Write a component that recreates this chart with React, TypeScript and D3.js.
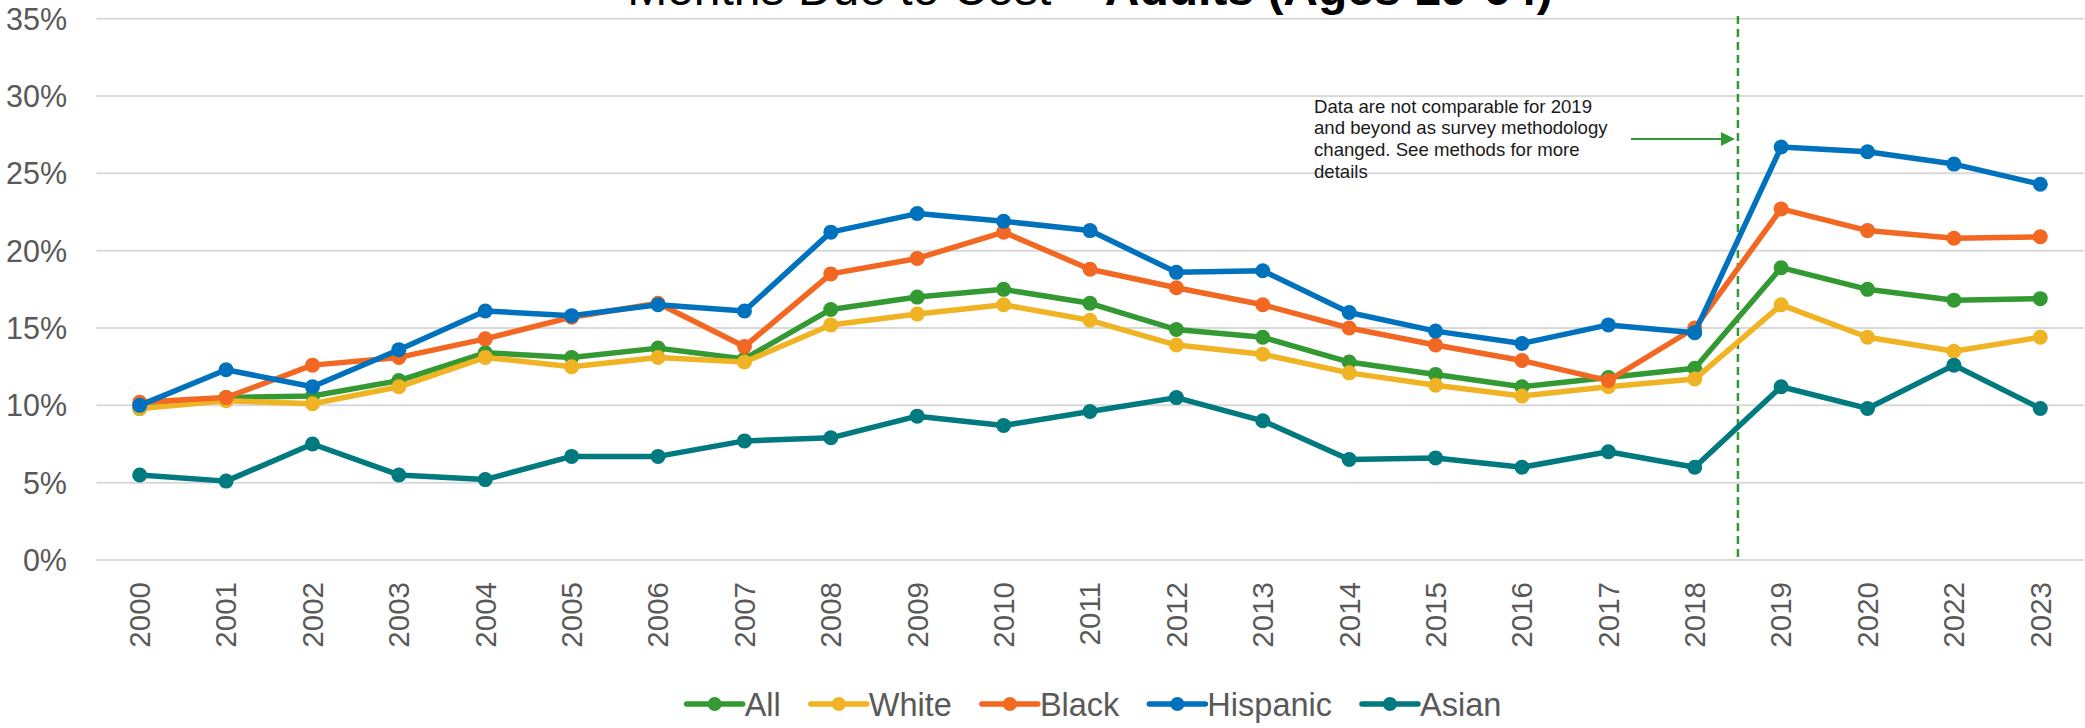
import React from "react";
import * as d3 from "d3";

const years = ["2000","2001","2002","2003","2004","2005","2006","2007","2008","2009","2010","2011","2012","2013","2014","2015","2016","2017","2018","2019","2020","2022","2023"];

const allValues = [9.8,10.5,10.6,11.6,13.4,13.1,13.7,13.0,16.2,17.0,17.5,16.6,14.9,14.4,12.8,12.0,11.2,11.8,12.4,18.9,17.5,16.8,16.9];
const whiteValues = [9.8,10.3,10.1,11.2,13.1,12.5,13.1,12.8,15.2,15.9,16.5,15.5,13.9,13.3,12.1,11.3,10.6,11.2,11.7,16.5,14.4,13.5,14.4];
const blackValues = [10.2,10.5,12.6,13.1,14.3,15.7,16.6,13.8,18.5,19.5,21.2,18.8,17.6,16.5,15.0,13.9,12.9,11.6,15.0,22.7,21.3,20.8,20.9];
const hispanicValues = [10.0,12.3,11.2,13.6,16.1,15.8,16.5,16.1,21.2,22.4,21.9,21.3,18.6,18.7,16.0,14.8,14.0,15.2,14.7,26.7,26.4,25.6,24.3];
const asianValues = [5.5,5.1,7.5,5.5,5.2,6.7,6.7,7.7,7.9,9.3,8.7,9.6,10.5,9.0,6.5,6.6,6.0,7.0,6.0,11.2,9.8,12.6,9.8];

const seriesNames = ["All","White","Black","Hispanic","Asian"];
const seriesColors = ["#339933","#F0B323","#F26722","#0072BD","#00797F"];
const seriesValues = [allValues, whiteValues, blackValues, hispanicValues, asianValues];

const yTicks = [0,5,10,15,20,25,30,35];

const titleRegular = "Months Due to Cost – ";
const titleBold = "Adults (Ages 19-64)";
const noteLines = ["Data are not comparable for 2019","and beyond as survey methodology","changed. See methods for more","details"];
const breakAfter = "2018";

const W = 2085, H = 728;
const FONT = "'Liberation Sans', Arial, Helvetica, sans-serif";

function measure(text: string, font: string): number {
  try {
    const c = document.createElement("canvas").getContext("2d");
    if (c) { c.font = font; return c.measureText(text).width; }
  } catch (e) {}
  return text.length * 16;
}

export default function App() {
  const x = d3.scalePoint<string>().domain(years).range([96.5, 2083.5]).padding(0.5);
  const y = d3.scaleLinear().domain([0, 35]).range([560, 18.7]);
  const line = d3.line<number>().x((_, i) => x(years[i]) as number).y(d => y(d));

  const breakIdx = years.indexOf(breakAfter);
  const breakX = ((x(years[breakIdx]) as number) + (x(years[breakIdx + 1]) as number)) / 2;

  // legend layout
  const legendSize = 32.5;
  const lineLen = 56, textGap = 2, itemGap = 30;
  const widths = seriesNames.map(n => measure(n, `${legendSize}px 'Liberation Sans', Arial`));
  const total = widths.reduce((s, w) => s + lineLen + textGap + w, 0) + itemGap * (seriesNames.length - 1);
  let cursor = 1094 - total / 2;
  const legendItems = seriesNames.map((n, i) => {
    const item = { name: n, color: seriesColors[i], x0: cursor };
    cursor += lineLen + textGap + widths[i] + itemGap;
    return item;
  });
  const legendY = 704;

  return (
    <svg width={W} height={H} style={{ position: "absolute", left: 0, top: 0, background: "#fff" }} fontFamily={FONT}>
      <rect x={0} y={0} width={W} height={H} fill="#fff" />
      {yTicks.map(t => (
        <line key={t} x1={96.5} x2={2083.5} y1={y(t)} y2={y(t)} stroke="#d9d9d9" strokeWidth={2} />
      ))}
      {yTicks.map(t => (
        <text key={"l" + t} x={67} y={y(t)} dy="0.36em" textAnchor="end" fontSize={30.5} fill="#595959">{t + "%"}</text>
      ))}
      {years.map(yr => (
        <text key={yr} transform={`translate(${x(yr)},582) rotate(-90)`} dy="0.35em" textAnchor="end" fontSize={29.5} fill="#595959">{yr}</text>
      ))}
      <text x={1090} y={5} textAnchor="middle" fontSize={48} fill="#000">
        <tspan>{titleRegular}</tspan>
        <tspan fontWeight="bold">{titleBold}</tspan>
      </text>
      <line x1={breakX} x2={breakX} y1={16} y2={558} stroke="#339933" strokeWidth={2.5} strokeDasharray="8,5" />
      {noteLines.map((l, i) => (
        <text key={i} x={1314} y={112.7 + i * 21.7} fontSize={18.6} fill="#1a1a1a">{l}</text>
      ))}
      <line x1={1631} x2={1722} y1={139} y2={139} stroke="#339933" strokeWidth={2} />
      <path d={`M${breakX - 3},139 L${breakX - 17},132 L${breakX - 17},146 Z`} fill="#339933" />
      {seriesValues.map((vals, si) => (
        <g key={si}>
          <path d={line(vals) || ""} fill="none" stroke={seriesColors[si]} strokeWidth={5.5} strokeLinejoin="round" strokeLinecap="round" />
          {vals.map((v, i) => (
            <circle key={i} cx={x(years[i]) as number} cy={y(v)} r={7.5} fill={seriesColors[si]} />
          ))}
        </g>
      ))}
      {legendItems.map((it) => (
        <g key={it.name}>
          <line x1={it.x0} x2={it.x0 + lineLen} y1={legendY} y2={legendY} stroke={it.color} strokeWidth={5.5} strokeLinecap="round" />
          <circle cx={it.x0 + lineLen / 2} cy={legendY} r={7} fill={it.color} />
          <text x={it.x0 + lineLen + textGap} y={legendY} dy="0.36em" fontSize={legendSize} fill="#595959">{it.name}</text>
        </g>
      ))}
    </svg>
  );
}
